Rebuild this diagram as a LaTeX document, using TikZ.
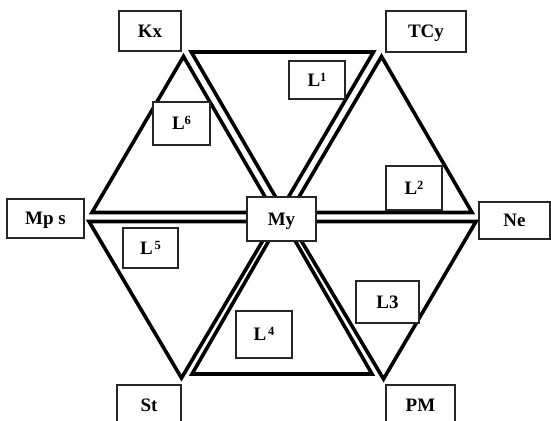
\documentclass[tikz,border=0pt]{standalone}
\usepackage{fontspec}
\setmainfont{Liberation Serif}
\newcommand{\sups}[1]{\raisebox{5pt}{\fontsize{12.5}{12.5}\selectfont #1}}
\begin{document}
\begin{tikzpicture}[x=1pt,y=-1pt,
  tri/.style={line width=3.6pt, line join=miter},
  lbl/.style={draw=black!85, line width=1.3pt, fill=white, inner sep=0pt,
    text height=12.5pt, text depth=0pt,
    font=\fontsize{19}{19}\selectfont\bfseries},
]
\useasboundingbox (0,0) rectangle (551,420);
\clip (0,0) rectangle (551,420);
% triangle vertices (inset from hexagon)
\coordinate (t1a) at (191.3,52);   \coordinate (t1b) at (373.5,52);  \coordinate (t1c) at (282,208);
\coordinate (t2a) at (289.8,212.5); \coordinate (t2b) at (472,212.5); \coordinate (t2c) at (381.5,56.5);
\coordinate (t3a) at (289.8,221.5); \coordinate (t3b) at (476,221.5); \coordinate (t3c) at (383.5,379);
\coordinate (t4a) at (282,218);     \coordinate (t4b) at (192,374);   \coordinate (t4c) at (372,374);
\coordinate (t5a) at (274.2,221.5); \coordinate (t5b) at (89,221.5);  \coordinate (t5c) at (181.5,378);
\coordinate (t6a) at (274.2,212.5); \coordinate (t6b) at (183.5,56.5); \coordinate (t6c) at (92,212.5);
\draw[tri] (t1a) -- (t1b) -- (t1c) -- cycle;
\draw[tri] (t2a) -- (t2b) -- (t2c) -- cycle;
\draw[tri] (t3a) -- (t3b) -- (t3c) -- cycle;
\draw[tri] (t4a) -- (t4b) -- (t4c) -- cycle;
\draw[tri] (t5a) -- (t5b) -- (t5c) -- cycle;
\draw[tri] (t6a) -- (t6b) -- (t6c) -- cycle;
% vertex boxes
\node[lbl, minimum width=62pt, minimum height=40pt] (kx)  at (150,31)    {Kx};
\node[lbl, minimum width=80pt, minimum height=41pt] (tcy) at (426,31.5)  {TCy};
\node[lbl, minimum width=77pt, minimum height=39pt] (mps) at (45.5,218.5) {Mp s};
\node[lbl, minimum width=69pt, minimum height=44pt] (my)  at (281.5,219) {My};
\node[lbl, minimum width=71pt, minimum height=37pt] (ne)  at (514.5,220.5) {Ne};
\node[lbl, minimum width=64pt, minimum height=40pt] (st)  at (149,405)   {St};
\node[lbl, minimum width=69pt, minimum height=40pt] (pm)  at (420.5,405) {PM};
% triangle labels
\node[lbl, minimum width=56pt, minimum height=38pt] (l1) at (317,80)     {L\sups{1}};
\node[lbl, minimum width=56pt, minimum height=44pt] (l2) at (414,188)    {L\sups{2}};
\node[lbl, minimum width=63pt, minimum height=42pt] (l3) at (387.5,302)  {L3};
\node[lbl, minimum width=56pt, minimum height=47pt] (l4) at (264,334.5)  {L\kern2pt\sups{4}};
\node[lbl, minimum width=55pt, minimum height=40pt] (l5) at (150.5,248)  {L\kern2pt\sups{5}};
\node[lbl, minimum width=57pt, minimum height=43pt] (l6) at (181.5,123.5) {L\sups{6}};
\end{tikzpicture}
\end{document}
